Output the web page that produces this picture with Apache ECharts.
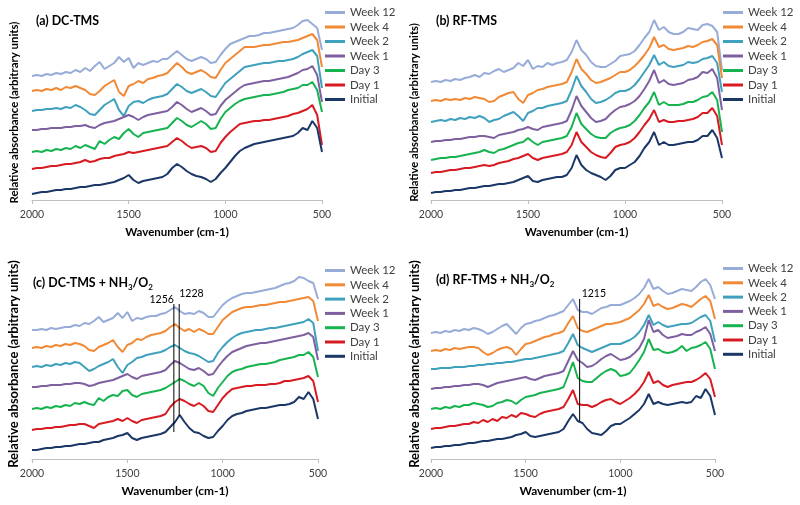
<!DOCTYPE html>
<html>
<head>
<meta charset="utf-8">
<script src="https://cdn.jsdelivr.net/npm/echarts@6/dist/echarts.min.js"></script>
<style>
  html, body { margin: 0; background: #fff; }
  #chart { width: 800px; height: 505px; }
</style>
</head>
<body>
<div id="chart"></div>
<script>
// wavenumber grid (cm-1), shared by every curve
var wavenumbers = [2000, 1975, 1950, 1925, 1900, 1875, 1850, 1825, 1800, 1775,
  1750, 1725, 1700, 1675, 1650, 1625, 1600, 1575, 1550, 1525,
  1500, 1475, 1450, 1425, 1400, 1375, 1350, 1325, 1300, 1275,
  1250, 1225, 1200, 1175, 1150, 1125, 1100, 1075, 1050, 1025,
  1000, 975, 950, 925, 900, 875, 850, 825, 800, 775,
  750, 725, 700, 675, 650, 625, 600, 575, 550, 525, 500];

var labels = ['Week 12', 'Week 4', 'Week 2', 'Week 1', 'Day 3', 'Day 1', 'Initial'];

// (a) DC-TMS  (offset curves, arbitrary units)
var dcWeek12 = [124,125,124,126,125,127,126,128,127,130,128,132,129,134,138,131,134,137,143,138,142,132,137,135,137,139,138,141,141,145,149,145,141,139,141,143,141,137,138,145,151,156,158,160,162,164,164,165,167,167,168,169,170,171,172,175,179,180,176,172,150];
var dcWeek4 = [109,110,109,111,110,112,110,113,112,114,112,110,106,105,109,114,117,120,108,104,114,116,119,117,121,122,124,125,127,132,137,133,128,126,128,130,127,123,122,130,137,141,145,149,153,153,153,154,155,155,156,157,158,158,159,160,162,164,166,160,133];
var dcWeek2 = [89,90,90,91,91,92,91,93,92,95,93,90,86,85,90,95,98,101,90,84,94,98,99,97,100,102,103,104,106,111,116,113,109,107,109,111,108,104,103,110,117,121,125,129,133,134,135,136,137,137,138,139,139,140,141,143,146,148,150,144,112];
var dcWeek1 = [70,70,71,71,72,72,72,73,73,74,74,75,73,72,75,77,78,79,81,83,85,83,80,83,85,86,87,88,89,93,98,95,91,88,90,92,89,85,86,94,100,104,108,112,115,116,117,118,119,119,120,121,122,123,125,127,130,131,134,125,98];
var dcDay3 = [48,49,48,50,49,51,50,52,51,54,52,55,53,51,59,56,60,63,61,67,71,66,63,67,68,69,70,71,72,77,82,79,75,73,76,79,76,71,72,81,88,92,96,99,101,102,103,104,105,105,106,107,108,110,111,112,115,115,118,110,88];
var dcDay1 = [31,32,32,33,34,34,35,36,36,37,38,40,38,39,41,42,42,44,45,46,48,47,48,49,50,51,52,53,54,58,62,59,55,52,53,54,52,48,49,57,63,68,72,76,77,78,79,79,80,80,81,82,83,84,86,87,89,91,95,85,55];
var dcInitial = [6,7,8,8,9,10,10,11,11,12,13,13,14,15,15,16,17,18,20,22,25,20,17,19,20,21,22,23,26,32,36,33,29,26,24,23,21,18,21,27,32,38,44,49,52,54,56,57,58,59,60,61,62,63,64,67,72,70,79,72,48];

// (b) RF-TMS
var rfWeek12 = [118,119,118,120,119,121,120,122,123,125,123,127,126,129,131,128,130,132,137,134,140,131,134,133,137,135,137,138,140,148,160,150,145,138,134,133,133,136,139,144,145,146,149,155,162,168,180,170,173,168,166,166,168,172,171,170,175,176,174,168,130];
var rfWeek4 = [99,100,99,101,100,101,100,102,101,103,102,101,98,99,103,105,107,108,101,97,105,107,110,111,113,114,115,116,118,128,141,131,126,120,117,118,120,122,125,128,128,130,134,139,145,152,163,153,155,151,150,151,152,154,153,155,158,159,161,155,122];
var rfWeek2 = [78,79,80,79,81,80,82,81,83,82,84,82,78,80,81,84,86,88,84,79,87,89,92,92,94,95,96,97,99,110,124,114,108,101,97,98,100,103,107,109,109,111,115,121,128,135,145,135,138,134,133,134,135,138,137,138,141,142,144,137,108];
var rfWeek1 = [58,59,59,60,60,61,61,62,63,63,64,64,63,62,65,66,67,68,70,71,73,71,70,73,74,75,76,77,79,90,104,94,88,82,78,79,81,86,90,93,94,96,99,104,111,119,130,117,120,116,115,116,117,120,121,123,128,127,131,122,90];
var rfDay3 = [40,41,42,42,43,43,44,45,46,47,48,50,48,47,50,51,53,55,57,58,62,58,55,58,59,60,61,62,64,73,87,76,71,66,63,62,62,67,70,72,73,75,79,85,92,98,108,95,98,95,95,95,96,98,98,100,103,104,108,100,68];
var rfDay1 = [27,28,28,29,30,30,31,32,32,33,34,35,34,35,37,38,39,41,42,44,46,42,40,42,43,44,45,46,48,55,68,58,53,48,45,43,42,47,53,55,56,58,62,68,75,81,90,78,80,78,78,79,79,80,81,83,87,87,92,84,55];
var rfInitial = [7,8,8,9,9,10,10,11,12,12,13,14,14,15,16,16,17,18,20,22,24,19,18,20,21,22,23,23,25,32,45,35,30,27,25,23,20,24,30,32,32,35,38,44,52,58,68,55,58,55,55,56,57,58,58,60,64,64,70,62,42];

// (c) DC-TMS + NH3/O2
var dcnWeek12 = [129,129,130,129,131,130,131,132,132,134,133,136,135,138,142,137,139,141,146,141,147,138,141,140,142,143,143,145,146,149,152,148,145,146,145,148,146,142,142,148,154,158,161,163,165,166,166,167,168,169,170,171,173,175,176,178,182,181,178,176,160];
var dcnWeek4 = [111,112,111,113,112,114,113,115,114,116,115,113,109,108,112,114,116,119,112,107,114,116,120,119,122,124,125,126,128,132,135,131,128,130,127,130,128,125,125,132,139,143,147,149,151,152,152,153,154,154,155,156,157,157,158,159,160,161,162,158,138];
var dcnWeek2 = [92,93,92,94,93,95,94,96,95,97,96,92,88,90,93,95,97,100,92,86,94,97,101,102,104,105,106,107,109,112,114,111,108,106,105,103,100,97,98,106,112,117,121,124,126,127,128,129,129,130,131,131,132,133,134,135,136,137,140,136,108];
var dcnWeek1 = [72,72,73,73,74,74,74,75,75,76,76,75,73,74,76,77,78,79,81,83,85,82,80,83,84,85,86,87,89,94,98,96,93,90,89,91,88,84,85,92,98,103,107,109,111,113,114,115,116,116,117,118,119,120,121,122,123,124,126,122,99];
var dcnDay3 = [50,51,50,52,51,53,52,54,53,56,55,57,55,54,61,58,62,64,63,68,69,64,62,65,66,67,68,69,71,74,77,80,78,75,73,76,73,66,63,71,77,83,87,89,90,92,93,94,95,95,96,97,99,100,101,102,104,104,107,102,82];
var dcnDay1 = [29,30,30,31,31,32,32,33,34,34,35,35,33,31,35,36,37,38,40,38,41,38,36,39,40,41,42,43,45,52,57,60,58,55,53,56,53,48,47,54,61,66,70,71,72,73,73,74,74,74,75,75,76,78,78,79,80,81,83,78,57];
var dcnInitial = [9,9,10,11,11,12,12,13,13,14,15,15,16,17,17,19,20,21,23,24,26,21,19,21,22,23,24,25,27,32,37,44,37,31,27,26,23,21,22,28,33,39,43,45,46,48,49,50,51,51,52,53,54,54,55,57,62,60,67,60,40];

// (d) RF-TMS + NH3/O2
var rfnWeek12 = [126,127,126,128,127,129,128,130,129,131,130,128,125,127,130,133,135,130,125,131,135,136,138,139,141,143,144,146,148,154,160,149,147,147,145,148,151,152,154,154,154,156,158,161,165,171,180,170,172,168,165,166,168,170,169,168,172,177,180,174,160];
var rfnWeek4 = [108,109,108,110,109,111,110,111,112,112,111,107,104,106,109,111,112,110,104,110,115,116,118,120,122,123,125,126,128,136,143,131,128,127,129,131,133,135,135,136,137,139,141,145,149,155,164,153,155,152,150,151,153,155,154,152,156,160,163,158,140];
var rfnWeek2 = [90,90,91,91,91,92,92,92,93,93,94,94,95,95,96,96,97,97,98,99,100,100,101,102,103,104,105,106,108,116,125,114,111,109,107,109,111,113,115,115,115,117,119,122,127,134,144,134,137,134,132,133,134,135,135,136,139,142,144,138,117];
var rfnWeek1 = [70,71,71,72,72,73,73,74,74,75,75,74,72,74,76,77,78,79,80,81,82,80,79,81,83,84,85,86,88,98,108,99,96,92,93,96,100,103,105,102,99,100,102,106,111,120,139,127,129,124,121,122,123,125,124,124,127,129,132,125,108];
var rfnDay3 = [50,51,50,52,51,53,52,54,54,56,55,54,52,53,56,57,59,58,55,59,62,63,64,66,67,68,69,70,72,84,97,81,78,77,77,81,85,88,90,88,83,84,86,92,99,107,120,109,110,107,106,107,109,113,108,111,112,114,117,110,90];
var rfnDay1 = [30,31,31,32,33,33,34,35,35,37,36,39,37,40,38,42,41,44,42,46,45,43,42,45,47,48,49,50,52,60,69,55,54,54,52,54,57,59,60,57,55,58,61,65,70,77,87,76,78,74,72,74,75,76,77,77,79,82,86,80,62];
var rfnInitial = [11,12,12,13,13,14,14,15,16,16,17,18,18,19,20,20,21,22,24,25,27,23,22,23,24,25,26,27,30,38,45,38,36,30,26,25,24,28,33,35,35,38,41,45,49,55,65,55,57,55,54,55,56,57,56,57,63,61,70,63,44];

// marker lines: wavenumber, bottom, top
var markC1256 = [1256, 27, 155];
var markC1228 = [1228, 43, 155];
var markD1215 = [1215, 38, 160];

var colors = ['#97ACD8', '#F08A36', '#3FA1BD', '#7E60A0', '#16B350', '#D81B22', '#1B3767'];
var FONT = 'Lato';

var panels = [
  { title: '(a) DC-TMS', curves: [dcWeek12, dcWeek4, dcWeek2, dcWeek1, dcDay3, dcDay1, dcInitial],
    grid: { left: 32, top: 25, width: 290, height: 175 }, ymax: 175,
    titlePos: [36, 13], legendPos: [325, 6], gap: 1.5, yName: 11.4, yGap: 12, xName: 11.5 },
  { title: '(b) RF-TMS', curves: [rfWeek12, rfWeek4, rfWeek2, rfWeek1, rfDay3, rfDay1, rfInitial],
    grid: { left: 431, top: 25, width: 291, height: 175 }, ymax: 175,
    titlePos: [436, 13], legendPos: [723, 6], gap: 1.5, yName: 11.2, yGap: 11, xName: 11.5 },
  { title: '(c) DC-TMS + NH{s|3}/O{s|2}', curves: [dcnWeek12, dcnWeek4, dcnWeek2, dcnWeek1, dcnDay3, dcnDay1, dcnInitial],
    grid: { left: 32, top: 269, width: 286, height: 190 }, ymax: 190,
    titlePos: [33, 275], legendPos: [325, 264], gap: 1.3, yName: 13, yGap: 11.5, xName: 11.9 },
  { title: '(d) RF-TMS + NH{s|3}/O{s|2}', curves: [rfnWeek12, rfnWeek4, rfnWeek2, rfnWeek1, rfnDay3, rfnDay1, rfnInitial],
    grid: { left: 431, top: 269, width: 284, height: 190 }, ymax: 190,
    titlePos: [436, 272], legendPos: [723, 262], gap: 1.3, yName: 13, yGap: 9.5, xName: 11.9 }
];

var marks = [
  { panel: 2, m: markC1256, text: '1256', position: 'left', offset: [0, -4] },
  { panel: 2, m: markC1228, text: '1228', position: 'right', offset: [0, -10] },
  { panel: 3, m: markD1215, text: '1215', position: 'right', offset: [2, -5] }
];

var series = [];
panels.forEach(function (p, i) {
  p.curves.forEach(function (c, k) {
    series.push({
      type: 'line',
      name: labels[k],
      xAxisIndex: i,
      yAxisIndex: i,
      data: wavenumbers.map(function (w, j) { return [w, c[j]]; }),
      symbol: 'none',
      clip: false,
      lineStyle: { width: 2, color: colors[k] },
      itemStyle: { color: colors[k] }
    });
  });
});

marks.forEach(function (mk) {
  series.push({
    type: 'line',
    name: 'mark' + mk.text,
    xAxisIndex: mk.panel,
    yAxisIndex: mk.panel,
    silent: true,
    symbol: 'circle',
    symbolSize: 0.1,
    lineStyle: { width: 1, color: '#000' },
    itemStyle: { color: '#000' },
    data: [
      [mk.m[0], mk.m[1]],
      { value: [mk.m[0], mk.m[2]],
        label: { show: true, formatter: mk.text, position: mk.position, distance: 0, offset: mk.offset,
                 fontFamily: FONT, fontSize: 10.5, color: '#000' } }
    ]
  });
});

var chart = echarts.init(document.getElementById('chart'));
chart.setOption({
  animation: false,
  backgroundColor: '#fff',
  title: panels.map(function (p) {
    return {
      text: p.title, left: p.titlePos[0], top: p.titlePos[1], padding: 0,
      textStyle: {
        fontFamily: FONT, fontSize: 12.4, fontWeight: 'bold', color: '#000', lineHeight: 16,
        rich: { s: { fontFamily: FONT, fontSize: 8, fontWeight: 'bold', color: '#000', verticalAlign: 'bottom', lineHeight: 16 } }
      }
    };
  }),
  legend: panels.map(function (p) {
    return {
      data: labels, orient: 'vertical', left: p.legendPos[0], top: p.legendPos[1], padding: 0,
      icon: 'rect', itemWidth: 20, itemHeight: 3, itemGap: p.gap, selectedMode: false,
      textStyle: { fontFamily: FONT, fontSize: 11.5, color: '#404040', lineHeight: 13 }
    };
  }),
  grid: panels.map(function (p) { return p.grid; }),
  xAxis: panels.map(function (p, i) {
    return {
      gridIndex: i, type: 'value', min: 500, max: 2000, interval: 500, inverse: true,
      name: 'Wavenumber (cm-1)', nameLocation: 'middle', nameGap: 26,
      nameTextStyle: { fontFamily: FONT, fontSize: p.xName, fontWeight: 'bold', color: '#000' },
      axisLine: { show: true, lineStyle: { color: '#bfbfbf', width: 1 } },
      axisTick: { show: true, length: 4, lineStyle: { color: '#bfbfbf' } },
      axisLabel: { margin: 9, fontFamily: FONT, fontSize: 10.5, color: '#404040',
                   formatter: function (v) { return String(v); } },
      splitLine: { show: false }
    };
  }),
  yAxis: panels.map(function (p, i) {
    return {
      gridIndex: i, type: 'value', min: 0, max: p.ymax,
      name: 'Relative absorbance (arbitrary units)', nameLocation: 'middle', nameGap: p.yGap,
      nameTextStyle: { fontFamily: FONT, fontSize: p.yName, fontWeight: 'bold', color: '#000' },
      axisLine: { show: false }, axisTick: { show: false }, axisLabel: { show: false },
      splitLine: { show: false }
    };
  }),
  series: series
});
</script>
</body>
</html>
